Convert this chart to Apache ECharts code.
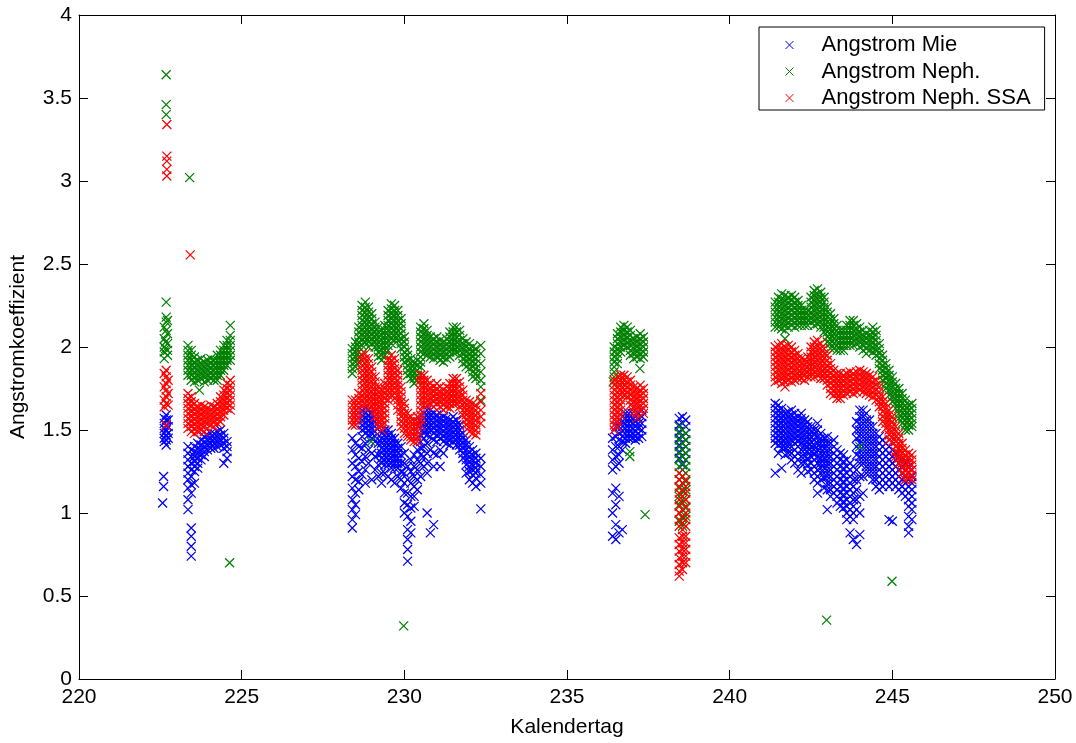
<!DOCTYPE html>
<html>
<head>
<meta charset="utf-8">
<script src="https://cdn.jsdelivr.net/npm/echarts@6/dist/echarts.min.js"></script>
<style>
html,body{margin:0;padding:0;background:#fff;}
#chart{width:1076px;height:743px;}
</style>
</head>
<body>
<div id="chart"></div>
<script>
// ---- tick labels ----
const xTicks = [220, 225, 230, 235, 240, 245, 250];
const yTicks = [0, 0.5, 1, 1.5, 2, 2.5, 3, 3.5, 4];
const seriesNames = ['Angstrom Mie', 'Angstrom Neph.', 'Angstrom Neph. SSA'];

// ---- data: each row = [Kalendertag, value, value, ...] ----
// Angstrom Mie (blue)
const mieSeg1 = [
  [222.62, 1.57, 1.54, 1.51, 1.48, 1.45, 1.43], [222.68, 1.59, 1.56, 1.53, 1.5, 1.47, 1.44, 1.41], [222.74, 1.56, 1.52, 1.48, 1.45],
  [222.6, 1.22, 1.16], [222.57, 1.06]
];
const mieSeg2 = [
  [223.35, 1.4, 1.36, 1.32, 1.28, 1.24, 1.2, 1.15, 1.08, 1.02], [223.45, 1.38, 1.34, 1.3, 1.26, 1.22, 1.17, 1.12, 0.91, 0.86, 0.8, 0.74],
  [223.55, 1.4, 1.37, 1.34, 1.31, 1.28, 1.25, 1.18], [223.65, 1.42, 1.39, 1.36, 1.33, 1.3, 1.27], [223.75, 1.44, 1.41, 1.38, 1.35, 1.32],
  [223.85, 1.46, 1.43, 1.4, 1.37, 1.34], [223.95, 1.47, 1.44, 1.41, 1.38], [224.05, 1.48, 1.45, 1.42, 1.39], [224.15, 1.48, 1.45, 1.42, 1.39],
  [224.25, 1.49, 1.46, 1.43, 1.4], [224.35, 1.5, 1.47, 1.44, 1.41], [224.45, 1.48, 1.45, 1.42, 1.39, 1.3], [224.55, 1.43, 1.4, 1.37, 1.33]
];
const mieSeg3 = [
  [228.4, 1.45, 1.38, 1.3, 1.22, 1.15, 1.08, 1.02, 0.96, 0.91], [228.5, 1.42, 1.35, 1.28, 1.2, 1.12, 1.05, 0.99],
  [228.6, 1.4, 1.33, 1.25, 1.19, 1.14], [228.7, 1.62, 1.59, 1.56, 1.53, 1.5, 1.46, 1.39, 1.31, 1.23],
  [228.8, 1.63, 1.6, 1.57, 1.54, 1.51, 1.48, 1.42, 1.34, 1.26, 1.18], [228.9, 1.62, 1.59, 1.56, 1.53, 1.5, 1.47, 1.38, 1.3],
  [229.0, 1.6, 1.57, 1.54, 1.51, 1.48, 1.45, 1.36, 1.2], [229.1, 1.58, 1.55, 1.52, 1.49, 1.46, 1.43, 1.34, 1.26],
  [229.2, 1.42, 1.35, 1.29, 1.22], [229.3, 1.48, 1.45, 1.42, 1.39, 1.36, 1.33, 1.3, 1.24, 1.18],
  [229.4, 1.5, 1.47, 1.44, 1.41, 1.38, 1.35, 1.32, 1.29, 1.24], [229.5, 1.5, 1.47, 1.44, 1.41, 1.38, 1.35, 1.32, 1.29, 1.22],
  [229.6, 1.48, 1.45, 1.42, 1.39, 1.36, 1.33, 1.3, 1.27, 1.2], [229.7, 1.45, 1.42, 1.39, 1.36, 1.33, 1.3, 1.27, 1.18],
  [229.8, 1.42, 1.39, 1.36, 1.33, 1.3, 1.27, 1.22], [229.9, 1.4, 1.35, 1.3, 1.25, 1.2, 1.15],
  [230.0, 1.36, 1.3, 1.24, 1.18, 1.12, 1.06, 1.0], [230.1, 1.28, 1.2, 1.12, 1.05, 0.98, 0.9, 0.84, 0.78, 0.71],
  [230.2, 1.32, 1.25, 1.18, 1.1, 1.03, 0.95, 0.88], [230.3, 1.35, 1.28, 1.22, 1.16, 1.1, 1.04],
  [230.4, 1.38, 1.32, 1.26, 1.2, 1.14], [230.5, 1.55, 1.51, 1.47, 1.43, 1.39, 1.35, 1.3, 1.22],
  [230.6, 1.6, 1.57, 1.54, 1.51, 1.48, 1.45, 1.4, 1.34, 1.28], [230.7, 1.62, 1.59, 1.56, 1.53, 1.5, 1.47, 1.42, 1.36, 1.3, 1.24, 1.0],
  [230.8, 1.62, 1.59, 1.56, 1.53, 1.5, 1.46, 1.38, 0.88], [230.9, 1.6, 1.57, 1.54, 1.51, 1.48, 1.44, 1.36, 1.28, 0.93],
  [231.0, 1.59, 1.56, 1.53, 1.5, 1.47, 1.43, 1.35], [231.1, 1.6, 1.57, 1.54, 1.51, 1.48, 1.45, 1.38, 1.28],
  [231.2, 1.58, 1.55, 1.52, 1.49, 1.46, 1.43, 1.36], [231.3, 1.57, 1.54, 1.51, 1.48, 1.45, 1.42],
  [231.4, 1.56, 1.53, 1.5, 1.47, 1.44, 1.41], [231.5, 1.58, 1.55, 1.52, 1.49, 1.46, 1.43],
  [231.6, 1.56, 1.53, 1.5, 1.47, 1.44, 1.41], [231.7, 1.53, 1.5, 1.47, 1.44, 1.41, 1.38],
  [231.8, 1.48, 1.45, 1.42, 1.39, 1.36, 1.33], [231.9, 1.44, 1.41, 1.38, 1.35, 1.32, 1.29, 1.24],
  [232.0, 1.4, 1.37, 1.34, 1.31, 1.28, 1.25, 1.2], [232.1, 1.38, 1.35, 1.32, 1.29, 1.26, 1.23, 1.18],
  [232.2, 1.36, 1.33, 1.3, 1.27, 1.24, 1.21, 1.16], [232.35, 1.33, 1.28, 1.23, 1.18, 1.025]
];
const mieSeg4 = [
  [236.4, 1.45, 1.38, 1.32, 1.26, 1.12, 1.0, 0.86], [236.5, 1.52, 1.46, 1.4, 1.34, 1.28, 1.15, 1.05, 0.93, 0.84],
  [236.6, 1.56, 1.52, 1.48, 1.44, 1.4, 1.35, 1.3, 1.1, 0.88], [236.7, 1.58, 1.55, 1.52, 1.49, 1.46, 1.43, 1.38, 0.9],
  [236.8, 1.6, 1.57, 1.54, 1.51, 1.48, 1.45, 1.42], [236.9, 1.6, 1.57, 1.54, 1.51, 1.48, 1.45],
  [237.0, 1.6, 1.57, 1.54, 1.51, 1.48, 1.45], [237.1, 1.58, 1.55, 1.52, 1.49, 1.46, 1.44],
  [237.2, 1.6, 1.57, 1.54, 1.51, 1.48, 1.45], [237.3, 1.62, 1.58, 1.54, 1.5, 1.46]
];
const mieSeg5 = [
  [238.45, 1.57, 1.53, 1.49, 1.45, 1.41, 1.37, 1.33], [238.55, 1.58, 1.54, 1.5, 1.46, 1.42, 1.38, 1.34, 1.29],
  [238.65, 1.56, 1.52, 1.48, 1.44, 1.4, 1.36, 1.32]
];
const mieSeg6 = [
  [241.4, 1.66, 1.63, 1.6, 1.57, 1.54, 1.51, 1.48, 1.45, 1.42, 1.24], [241.5, 1.65, 1.62, 1.59, 1.56, 1.53, 1.5, 1.47, 1.44, 1.41, 1.36],
  [241.6, 1.63, 1.6, 1.57, 1.54, 1.51, 1.48, 1.45, 1.42, 1.39, 1.27], [241.7, 1.6, 1.57, 1.54, 1.51, 1.48, 1.45, 1.42, 1.39, 1.35],
  [241.8, 1.61, 1.58, 1.55, 1.52, 1.49, 1.46, 1.43, 1.4, 1.36], [241.9, 1.62, 1.59, 1.56, 1.53, 1.5, 1.47, 1.44, 1.4, 1.36, 1.32],
  [242.0, 1.6, 1.57, 1.54, 1.51, 1.48, 1.45, 1.42, 1.38, 1.34, 1.3], [242.1, 1.58, 1.55, 1.52, 1.49, 1.46, 1.43, 1.4, 1.36, 1.32, 1.26],
  [242.2, 1.6, 1.57, 1.54, 1.51, 1.48, 1.45, 1.42, 1.38, 1.34, 1.3, 1.24], [242.3, 1.56, 1.53, 1.5, 1.47, 1.44, 1.41, 1.38, 1.34, 1.3],
  [242.4, 1.55, 1.52, 1.49, 1.46, 1.43, 1.4, 1.37, 1.33, 1.29, 1.25], [242.5, 1.52, 1.49, 1.46, 1.43, 1.4, 1.37, 1.34, 1.3, 1.26],
  [242.6, 1.5, 1.47, 1.44, 1.41, 1.38, 1.35, 1.32, 1.28, 1.24, 1.2], [242.7, 1.54, 1.5, 1.46, 1.42, 1.38, 1.34, 1.3, 1.26, 1.22, 1.18, 1.12],
  [242.8, 1.48, 1.45, 1.42, 1.39, 1.36, 1.33, 1.3, 1.27, 1.24, 1.2], [242.9, 1.45, 1.42, 1.39, 1.36, 1.33, 1.3, 1.27, 1.24, 1.21, 1.15],
  [243.0, 1.46, 1.42, 1.38, 1.34, 1.3, 1.26, 1.22, 1.18, 1.14, 1.02], [243.1, 1.42, 1.38, 1.34, 1.3, 1.26, 1.22, 1.18, 1.14, 1.1],
  [243.2, 1.44, 1.4, 1.36, 1.32, 1.28, 1.24, 1.2, 1.16, 1.12], [243.3, 1.38, 1.34, 1.3, 1.26, 1.22, 1.18, 1.14, 1.1, 1.06],
  [243.4, 1.36, 1.32, 1.28, 1.24, 1.2, 1.16, 1.12, 1.08, 1.04], [243.5, 1.35, 1.31, 1.27, 1.23, 1.19, 1.15, 1.11, 1.07, 1.03],
  [243.6, 1.32, 1.28, 1.24, 1.2, 1.16, 1.12, 1.08, 1.04, 1.0, 0.96], [243.7, 1.3, 1.26, 1.22, 1.18, 1.14, 1.1, 1.06, 1.02, 0.98, 0.88],
  [243.8, 1.28, 1.24, 1.2, 1.16, 1.12, 1.08, 1.04, 1.0, 0.96, 0.84], [243.9, 1.55, 1.5, 1.45, 1.4, 1.35, 1.26, 1.2, 1.14, 1.08, 1.02, 0.81],
  [244.0, 1.62, 1.58, 1.54, 1.5, 1.46, 1.42, 1.38, 1.34, 1.3, 1.22, 1.1, 1.0, 0.87], [244.1, 1.62, 1.58, 1.54, 1.5, 1.46, 1.42, 1.38, 1.34, 1.3, 1.22, 1.12],
  [244.2, 1.6, 1.56, 1.52, 1.48, 1.44, 1.4, 1.36, 1.32, 1.28, 1.24], [244.3, 1.56, 1.52, 1.48, 1.44, 1.4, 1.36, 1.32, 1.28, 1.24],
  [244.4, 1.52, 1.48, 1.44, 1.4, 1.36, 1.32, 1.28, 1.24, 1.2], [244.5, 1.48, 1.44, 1.4, 1.36, 1.32, 1.28, 1.24, 1.2, 1.16],
  [244.6, 1.46, 1.42, 1.38, 1.34, 1.3, 1.26, 1.22, 1.18, 1.14], [244.7, 1.44, 1.4, 1.36, 1.32, 1.28, 1.24, 1.2, 1.16],
  [244.8, 1.42, 1.38, 1.34, 1.3, 1.26, 1.22, 1.18], [244.9, 1.4, 1.36, 1.32, 1.28, 1.24, 1.2, 1.16, 0.96],
  [245.0, 1.38, 1.34, 1.3, 1.26, 1.22, 1.18, 0.95], [245.1, 1.36, 1.32, 1.28, 1.24, 1.2, 1.16],
  [245.2, 1.34, 1.3, 1.26, 1.22, 1.18, 1.14], [245.3, 1.32, 1.28, 1.24, 1.2, 1.16, 1.12],
  [245.4, 1.3, 1.26, 1.22, 1.18, 1.14, 1.1], [245.5, 1.28, 1.24, 1.2, 1.16, 1.12, 1.08, 1.04, 0.98, 0.92, 0.88],
  [245.6, 1.26, 1.22, 1.18, 1.14, 1.1, 1.06, 1.02, 0.96]
];

// Angstrom Neph. (green)
const nephSeg1 = [
  [222.68, 3.64, 3.46, 3.4, 2.27, 2.18, 2.15, 2.1], [222.62, 2.05, 2.0, 1.97, 1.93, 2.12],
  [222.72, 2.08, 2.02, 1.98, 1.95, 2.16], [222.66, 1.99, 2.03], [223.4, 3.02]
];
const nephSeg2 = [
  [223.35, 2.01, 1.98, 1.95, 1.92, 1.89, 1.86, 1.83], [223.45, 1.98, 1.95, 1.92, 1.89, 1.86, 1.83, 1.8],
  [223.55, 1.94, 1.91, 1.88, 1.85, 1.82, 1.79], [223.65, 1.92, 1.89, 1.86, 1.83, 1.8], [223.7, 1.74],
  [223.75, 1.93, 1.9, 1.87, 1.84, 1.81], [223.85, 1.91, 1.88, 1.85, 1.82, 1.79], [223.95, 1.92, 1.89, 1.86, 1.83, 1.8],
  [224.05, 1.93, 1.9, 1.87, 1.84, 1.81], [224.15, 1.92, 1.89, 1.86, 1.83, 1.8], [224.25, 1.95, 1.92, 1.89, 1.86, 1.83, 1.8],
  [224.35, 1.98, 1.95, 1.92, 1.89, 1.86, 1.83], [224.45, 2.01, 1.98, 1.95, 1.92, 1.89, 1.86],
  [224.55, 2.04, 2.01, 1.98, 1.95, 1.92, 1.89], [224.65, 2.07, 2.04, 2.01, 1.98, 1.95, 1.92, 2.13], [224.63, 0.7]
];
const nephSeg3 = [
  [228.4, 1.99, 1.96, 1.93, 1.9, 1.87, 1.84], [228.5, 2.03, 2.0, 1.97, 1.94, 1.91, 1.88],
  [228.6, 2.12, 2.09, 2.06, 2.03, 2.0, 1.97, 1.94, 1.91], [228.7, 2.25, 2.22, 2.19, 2.16, 2.13, 2.1, 2.07, 2.04, 2.01],
  [228.8, 2.27, 2.24, 2.21, 2.18, 2.15, 2.12, 2.09, 2.06, 2.03], [228.9, 2.24, 2.21, 2.18, 2.15, 2.12, 2.09, 2.06, 2.03, 2.0],
  [229.0, 2.2, 2.17, 2.14, 2.11, 2.08, 2.05, 2.02], [229.1, 2.15, 2.12, 2.09, 2.06, 2.03, 2.0],
  [229.2, 2.12, 2.09, 2.06, 2.03, 2.0, 1.97, 1.94], [229.3, 2.1, 2.07, 2.04, 2.01, 1.98, 1.95, 1.92],
  [229.4, 2.13, 2.1, 2.07, 2.04, 2.01, 1.98, 1.95], [229.5, 2.22, 2.19, 2.16, 2.13, 2.1, 2.07, 2.04, 2.01, 1.98],
  [229.6, 2.26, 2.23, 2.2, 2.17, 2.14, 2.11, 2.08, 2.05, 2.02], [229.7, 2.25, 2.22, 2.19, 2.16, 2.13, 2.1, 2.07, 2.04],
  [229.8, 2.22, 2.19, 2.16, 2.13, 2.1, 2.07, 2.04], [229.9, 2.17, 2.14, 2.11, 2.08, 2.05, 2.02, 1.99],
  [230.0, 2.06, 2.03, 2.0, 1.97, 1.94, 1.91], [230.1, 1.98, 1.95, 1.92, 1.89, 1.86, 1.83],
  [230.2, 1.93, 1.9, 1.87, 1.84, 1.81], [230.3, 1.9, 1.87, 1.84, 1.81, 1.78], [230.4, 1.92, 1.89, 1.86, 1.83, 1.8],
  [230.5, 2.12, 2.09, 2.06, 2.03, 2.0, 1.97, 1.94, 1.91, 1.88], [230.6, 2.14, 2.11, 2.08, 2.05, 2.02, 1.99, 1.96],
  [230.7, 2.1, 2.07, 2.04, 2.01, 1.98, 1.95], [230.8, 2.06, 2.03, 2.0, 1.97, 1.94], [230.9, 2.05, 2.02, 1.99, 1.96, 1.93],
  [231.0, 2.06, 2.03, 2.0, 1.97, 1.94], [231.1, 2.04, 2.01, 1.98, 1.95, 1.92], [231.2, 2.03, 2.0, 1.97, 1.94, 1.91],
  [231.3, 2.05, 2.02, 1.99, 1.96, 1.93], [231.4, 2.09, 2.06, 2.03, 2.0, 1.97, 1.94], [231.5, 2.12, 2.09, 2.06, 2.03, 2.0, 1.97],
  [231.6, 2.12, 2.09, 2.06, 2.03, 2.0, 1.97], [231.7, 2.1, 2.07, 2.04, 2.01, 1.98, 1.95], [231.8, 2.05, 2.02, 1.99, 1.96, 1.93, 1.9],
  [231.9, 2.03, 2.0, 1.97, 1.94, 1.91, 1.88], [232.0, 2.02, 1.99, 1.96, 1.93, 1.9, 1.87],
  [232.1, 2.0, 1.97, 1.94, 1.91, 1.88, 1.85, 1.82], [232.2, 1.99, 1.96, 1.93, 1.9, 1.87, 1.84, 1.81],
  [232.35, 2.01, 1.96, 1.9, 1.85, 1.8, 1.76, 1.68], [228.98, 1.43], [229.98, 0.32]
];
const nephSeg4 = [
  [236.45, 2.0, 1.97, 1.94, 1.91, 1.88, 1.85, 1.82], [236.55, 2.08, 2.05, 2.02, 1.99, 1.96, 1.93, 1.9],
  [236.65, 2.12, 2.09, 2.06, 2.03, 2.0, 1.97], [236.75, 2.13, 2.1, 2.07, 2.04, 2.01], [236.85, 2.12, 2.09, 2.06, 2.03, 2.0],
  [236.95, 2.1, 2.07, 2.04, 2.01, 1.98, 1.95], [237.05, 2.05, 2.02, 1.99, 1.96, 1.93], [237.15, 2.06, 2.03, 2.0, 1.97, 1.94],
  [237.25, 2.08, 2.05, 2.02, 1.99, 1.96, 1.93], [237.35, 2.06, 2.03, 2.0, 1.97, 1.94],
  [237.24, 1.87], [236.42, 1.79], [236.93, 1.34, 1.37], [237.4, 0.99]
];
const nephSeg5 = [
  [238.45, 1.52, 1.48, 1.44, 1.4, 1.36, 1.32, 1.28, 1.24, 1.2, 1.15, 1.1, 1.05, 1.0, 0.95],
  [238.55, 1.5, 1.46, 1.42, 1.38, 1.34, 1.3, 1.26, 1.22, 1.18, 1.13, 1.08, 1.02, 0.97, 0.92],
  [238.65, 1.48, 1.44, 1.4, 1.36, 1.32, 1.28, 1.24, 1.19, 1.14, 1.08, 1.03, 0.98]
];
const nephSeg6 = [
  [241.4, 2.27, 2.24, 2.21, 2.18, 2.15, 2.12], [241.5, 2.3, 2.27, 2.24, 2.21, 2.18, 2.15, 2.12],
  [241.6, 2.32, 2.29, 2.26, 2.23, 2.2, 2.17, 2.14, 2.11], [241.7, 2.31, 2.28, 2.25, 2.22, 2.19, 2.16, 2.13, 2.1, 2.05],
  [241.8, 2.3, 2.27, 2.24, 2.21, 2.18, 2.15, 2.12], [241.9, 2.31, 2.28, 2.25, 2.22, 2.19, 2.16, 2.13],
  [242.0, 2.3, 2.27, 2.24, 2.21, 2.18, 2.15, 2.12], [242.1, 2.28, 2.25, 2.22, 2.19, 2.16, 2.13],
  [242.2, 2.25, 2.22, 2.19, 2.16, 2.13], [242.3, 2.22, 2.19, 2.16, 2.13], [242.4, 2.22, 2.19, 2.16, 2.13],
  [242.5, 2.3, 2.27, 2.24, 2.21, 2.18, 2.15], [242.6, 2.34, 2.31, 2.28, 2.25, 2.22, 2.19, 2.16, 2.13],
  [242.7, 2.35, 2.32, 2.29, 2.26, 2.23, 2.2, 2.17, 2.14], [242.8, 2.33, 2.3, 2.27, 2.24, 2.21, 2.18, 2.15, 2.12],
  [242.9, 2.3, 2.27, 2.24, 2.21, 2.18, 2.15, 2.12, 2.09], [243.0, 2.24, 2.21, 2.18, 2.15, 2.12, 2.09, 2.06, 2.03],
  [243.1, 2.2, 2.17, 2.14, 2.11, 2.08, 2.05, 2.02, 1.99], [243.2, 2.17, 2.14, 2.11, 2.08, 2.05, 2.02, 1.99],
  [243.3, 2.13, 2.1, 2.07, 2.04, 2.01, 1.98], [243.4, 2.1, 2.07, 2.04, 2.01, 1.98], [243.5, 2.1, 2.07, 2.04, 2.01, 1.98],
  [243.6, 2.13, 2.1, 2.07, 2.04, 2.01], [243.7, 2.16, 2.13, 2.1, 2.07, 2.04, 2.01], [243.8, 2.16, 2.13, 2.1, 2.07, 2.04, 2.01],
  [243.9, 2.14, 2.11, 2.08, 2.05, 2.02], [244.0, 2.12, 2.09, 2.06, 2.03, 2.0], [244.1, 2.1, 2.07, 2.04, 2.01, 1.98],
  [244.2, 2.08, 2.05, 2.02, 1.99, 1.96], [244.3, 2.1, 2.07, 2.04, 2.01, 1.98], [244.4, 2.12, 2.09, 2.06, 2.03, 2.0, 1.97],
  [244.5, 2.1, 2.07, 2.04, 2.01, 1.98, 1.95], [244.6, 2.02, 1.99, 1.96, 1.93, 1.9, 1.87],
  [244.7, 1.95, 1.92, 1.89, 1.86, 1.83, 1.8], [244.8, 1.9, 1.87, 1.84, 1.81, 1.78, 1.75],
  [244.9, 1.86, 1.83, 1.8, 1.77, 1.74, 1.71], [245.0, 1.82, 1.79, 1.76, 1.73, 1.7, 1.67],
  [245.1, 1.78, 1.75, 1.72, 1.69, 1.66, 1.63], [245.2, 1.75, 1.72, 1.69, 1.66, 1.63, 1.6, 1.57],
  [245.3, 1.72, 1.69, 1.66, 1.63, 1.6, 1.57, 1.54], [245.4, 1.68, 1.65, 1.62, 1.59, 1.56, 1.53, 1.5],
  [245.5, 1.65, 1.62, 1.59, 1.56, 1.53, 1.5], [245.6, 1.66, 1.63, 1.6, 1.57, 1.54, 1.52],
  [244.0, 1.4], [242.98, 0.355], [244.99, 0.589]
];

// Angstrom Neph. SSA (red)
const ssaSeg1 = [
  [222.7, 3.34, 3.15, 3.12, 3.07, 3.03], [223.42, 2.555],
  [222.68, 1.86, 1.82, 1.78, 1.74, 1.7, 1.66, 1.53], [222.62, 1.84, 1.76, 1.68, 1.64], [222.74, 1.8, 1.72, 1.65]
];
const ssaSeg2 = [
  [223.35, 1.72, 1.69, 1.66, 1.63, 1.6, 1.57, 1.54, 1.51], [223.45, 1.7, 1.67, 1.64, 1.61, 1.58, 1.55, 1.52, 1.49],
  [223.55, 1.66, 1.63, 1.6, 1.57, 1.54, 1.51, 1.48], [223.65, 1.64, 1.61, 1.58, 1.55, 1.52, 1.49],
  [223.75, 1.65, 1.62, 1.59, 1.56, 1.53, 1.5], [223.85, 1.64, 1.61, 1.58, 1.55, 1.52, 1.49],
  [223.95, 1.63, 1.6, 1.57, 1.54, 1.51], [224.05, 1.65, 1.62, 1.59, 1.56, 1.53], [224.15, 1.64, 1.61, 1.58, 1.55, 1.52],
  [224.25, 1.66, 1.63, 1.6, 1.57, 1.54], [224.35, 1.7, 1.67, 1.64, 1.61, 1.58, 1.55], [224.45, 1.74, 1.71, 1.68, 1.65, 1.62, 1.59],
  [224.55, 1.78, 1.75, 1.72, 1.69, 1.66, 1.63], [224.65, 1.8, 1.77, 1.74, 1.71, 1.68, 1.65, 1.62]
];
const ssaSeg3 = [
  [228.4, 1.68, 1.65, 1.62, 1.59, 1.56, 1.53], [228.5, 1.68, 1.65, 1.62, 1.59, 1.56, 1.53], [228.6, 1.72, 1.69, 1.66, 1.63, 1.6, 1.57],
  [228.7, 1.95, 1.92, 1.89, 1.86, 1.83, 1.8, 1.77, 1.74, 1.71, 1.68, 1.65], [228.8, 1.96, 1.93, 1.9, 1.87, 1.84, 1.81, 1.78, 1.75, 1.72, 1.69, 1.66],
  [228.9, 1.93, 1.9, 1.87, 1.84, 1.81, 1.78, 1.75, 1.72, 1.69, 1.66, 1.63], [229.0, 1.88, 1.85, 1.82, 1.79, 1.76, 1.73, 1.7, 1.67, 1.64],
  [229.1, 1.82, 1.79, 1.76, 1.73, 1.7, 1.67, 1.64, 1.61, 1.58], [229.2, 1.76, 1.73, 1.7, 1.67, 1.64, 1.61, 1.58, 1.55, 1.52],
  [229.3, 1.74, 1.71, 1.68, 1.65, 1.62, 1.59, 1.56, 1.53, 1.5], [229.4, 1.78, 1.75, 1.72, 1.69, 1.66, 1.63, 1.6, 1.57, 1.54],
  [229.5, 1.92, 1.89, 1.86, 1.83, 1.8, 1.77, 1.74, 1.71, 1.68], [229.6, 1.95, 1.92, 1.89, 1.86, 1.83, 1.8, 1.77, 1.74, 1.71],
  [229.7, 1.93, 1.9, 1.87, 1.84, 1.81, 1.78, 1.75, 1.72, 1.69], [229.8, 1.86, 1.83, 1.8, 1.77, 1.74, 1.71, 1.68, 1.65, 1.62],
  [229.9, 1.76, 1.73, 1.7, 1.67, 1.64, 1.61, 1.58, 1.55, 1.52], [230.0, 1.66, 1.63, 1.6, 1.57, 1.54, 1.51, 1.48],
  [230.1, 1.6, 1.57, 1.54, 1.51, 1.48, 1.46], [230.2, 1.58, 1.55, 1.52, 1.49, 1.46, 1.44], [230.3, 1.55, 1.52, 1.49, 1.46, 1.43],
  [230.4, 1.58, 1.55, 1.52, 1.49, 1.46, 1.43], [230.5, 1.83, 1.8, 1.77, 1.74, 1.71, 1.68, 1.65, 1.62, 1.59, 1.56, 1.53],
  [230.6, 1.83, 1.8, 1.77, 1.74, 1.71, 1.68, 1.65], [230.7, 1.8, 1.77, 1.74, 1.71, 1.68, 1.65], [230.8, 1.78, 1.75, 1.72, 1.69, 1.66],
  [230.9, 1.76, 1.73, 1.7, 1.67, 1.64], [231.0, 1.78, 1.75, 1.72, 1.69, 1.66], [231.1, 1.76, 1.73, 1.7, 1.67, 1.64],
  [231.2, 1.74, 1.71, 1.68, 1.65, 1.62], [231.3, 1.76, 1.73, 1.7, 1.67, 1.64], [231.4, 1.78, 1.75, 1.72, 1.69, 1.66, 1.63],
  [231.5, 1.81, 1.78, 1.75, 1.72, 1.69, 1.66], [231.6, 1.81, 1.78, 1.75, 1.72, 1.69, 1.66], [231.7, 1.79, 1.76, 1.73, 1.7, 1.67, 1.64],
  [231.8, 1.74, 1.71, 1.68, 1.65, 1.62, 1.59], [231.9, 1.68, 1.65, 1.62, 1.59, 1.56, 1.53],
  [232.0, 1.67, 1.64, 1.61, 1.58, 1.55, 1.52, 1.49], [232.1, 1.66, 1.63, 1.6, 1.57, 1.54, 1.51, 1.48],
  [232.2, 1.65, 1.62, 1.59, 1.56, 1.53, 1.5, 1.47], [232.35, 1.72, 1.67, 1.62, 1.58, 1.54]
];
const ssaSeg4 = [
  [236.45, 1.8, 1.77, 1.74, 1.71, 1.68, 1.65, 1.62, 1.59, 1.56, 1.53, 1.5], [236.55, 1.82, 1.79, 1.76, 1.73, 1.7, 1.67, 1.64, 1.61, 1.58, 1.55, 1.52],
  [236.65, 1.83, 1.8, 1.77, 1.74, 1.71, 1.68, 1.65, 1.62, 1.59], [236.75, 1.83, 1.8, 1.77, 1.74, 1.71], [236.85, 1.82, 1.79, 1.76, 1.73, 1.7],
  [236.95, 1.8, 1.77, 1.74, 1.71, 1.68, 1.65], [237.05, 1.76, 1.73, 1.7, 1.67, 1.64, 1.61], [237.15, 1.75, 1.72, 1.69, 1.66, 1.63, 1.6, 1.57],
  [237.25, 1.77, 1.74, 1.71, 1.68, 1.65, 1.62], [237.35, 1.75, 1.72, 1.69, 1.66, 1.63, 1.6]
];
const ssaSeg5 = [
  [238.45, 1.24, 1.2, 1.16, 1.12, 1.08, 1.04, 1.0, 0.96, 0.92, 0.85, 0.81, 0.77, 0.73, 0.69, 0.65, 0.62],
  [238.55, 1.22, 1.18, 1.14, 1.1, 1.06, 1.02, 0.98, 0.94, 0.9, 0.86, 0.82, 0.78, 0.74, 0.7, 0.66],
  [238.65, 1.2, 1.16, 1.12, 1.08, 1.04, 1.0, 0.96, 0.92, 0.86, 0.82, 0.78, 0.74, 0.7]
];
const ssaSeg6 = [
  [241.4, 2.0, 1.97, 1.94, 1.91, 1.88, 1.85, 1.82, 1.79], [241.5, 2.01, 1.98, 1.95, 1.92, 1.89, 1.86, 1.83, 1.8],
  [241.6, 2.02, 1.99, 1.96, 1.93, 1.9, 1.87, 1.84, 1.81, 1.78], [241.7, 2.0, 1.97, 1.94, 1.91, 1.88, 1.85, 1.82, 1.79, 1.76],
  [241.8, 2.01, 1.98, 1.95, 1.92, 1.89, 1.86, 1.83, 1.8], [241.9, 2.0, 1.97, 1.94, 1.91, 1.88, 1.85, 1.82, 1.79],
  [242.0, 1.98, 1.95, 1.92, 1.89, 1.86, 1.83, 1.8], [242.1, 1.96, 1.93, 1.9, 1.87, 1.84, 1.81],
  [242.2, 1.93, 1.9, 1.87, 1.84, 1.81], [242.3, 1.92, 1.89, 1.86, 1.83, 1.8], [242.4, 1.94, 1.91, 1.88, 1.85, 1.82],
  [242.5, 2.0, 1.97, 1.94, 1.91, 1.88, 1.85, 1.82], [242.6, 2.03, 2.0, 1.97, 1.94, 1.91, 1.88, 1.85, 1.82],
  [242.7, 2.04, 2.01, 1.98, 1.95, 1.92, 1.89, 1.86, 1.83], [242.8, 2.02, 1.99, 1.96, 1.93, 1.9, 1.87, 1.84, 1.81],
  [242.9, 1.99, 1.96, 1.93, 1.9, 1.87, 1.84, 1.81], [243.0, 1.95, 1.92, 1.89, 1.86, 1.83, 1.8, 1.77],
  [243.1, 1.9, 1.87, 1.84, 1.81, 1.78, 1.75, 1.72], [243.2, 1.86, 1.83, 1.8, 1.77, 1.74, 1.71],
  [243.3, 1.84, 1.81, 1.78, 1.75, 1.72, 1.69], [243.4, 1.84, 1.81, 1.78, 1.75, 1.72, 1.69],
  [243.5, 1.83, 1.8, 1.77, 1.74, 1.71], [243.6, 1.84, 1.81, 1.78, 1.75, 1.72], [243.7, 1.85, 1.82, 1.79, 1.76, 1.73],
  [243.8, 1.84, 1.81, 1.78, 1.75, 1.72], [243.9, 1.85, 1.82, 1.79, 1.76, 1.73], [244.0, 1.86, 1.83, 1.8, 1.77, 1.74],
  [244.1, 1.85, 1.82, 1.79, 1.76, 1.73], [244.2, 1.84, 1.81, 1.78, 1.75, 1.72], [244.3, 1.83, 1.8, 1.77, 1.74, 1.71],
  [244.4, 1.82, 1.79, 1.76, 1.73, 1.7], [244.5, 1.8, 1.77, 1.74, 1.71, 1.68], [244.6, 1.76, 1.73, 1.7, 1.67, 1.64],
  [244.7, 1.7, 1.67, 1.64, 1.61, 1.58, 1.55], [244.8, 1.66, 1.63, 1.6, 1.57, 1.54, 1.51],
  [244.9, 1.62, 1.59, 1.56, 1.53, 1.5, 1.47, 1.44], [245.0, 1.58, 1.55, 1.52, 1.49, 1.46, 1.43],
  [245.1, 1.52, 1.49, 1.46, 1.43, 1.4, 1.37, 1.34], [245.2, 1.48, 1.45, 1.42, 1.39, 1.36, 1.33, 1.3],
  [245.3, 1.42, 1.39, 1.36, 1.33, 1.3, 1.27, 1.24], [245.4, 1.38, 1.35, 1.32, 1.29, 1.26, 1.23, 1.2],
  [245.5, 1.36, 1.33, 1.3, 1.27, 1.24, 1.21], [245.6, 1.35, 1.32, 1.29, 1.26, 1.23, 1.2]
];

const mieRows = [].concat(mieSeg1, mieSeg2, mieSeg3, mieSeg4, mieSeg5, mieSeg6);
const nephRows = [].concat(nephSeg1, nephSeg2, nephSeg3, nephSeg4, nephSeg5, nephSeg6);
const ssaRows = [].concat(ssaSeg1, ssaSeg2, ssaSeg3, ssaSeg4, ssaSeg5, ssaSeg6);

function toPoints(rows) {
  const pts = [];
  rows.forEach(function (r) {
    for (let i = 1; i < r.length; i++) pts.push([r[0], r[i]]);
  });
  return pts;
}

const FONT = 'Liberation Sans, Arial, Helvetica, sans-serif';
const X_SYMBOL = 'path://M0,0L10,10M10,0L0,10';
const colors = ['#0000ff', '#008000', '#ff0000'];

function mkSeries(name, rows, color) {
  return {
    name: name,
    type: 'scatter',
    xAxisIndex: 0,
    yAxisIndex: 0,
    symbol: X_SYMBOL,
    symbolSize: 9,
    animation: false,
    silent: true,
    itemStyle: { color: 'rgba(0,0,0,0)', borderColor: color, borderWidth: 1.25, opacity: 1 },
    data: toPoints(rows)
  };
}

const chart = echarts.init(document.getElementById('chart'), null, { renderer: 'canvas' });

const axisCommon = {
  axisLine: { show: true, onZero: false, lineStyle: { color: '#000', width: 1 } },
  axisTick: { show: true, inside: true, length: 9, lineStyle: { color: '#000', width: 1 } },
  splitLine: { show: false },
  axisLabel: { color: '#000', fontFamily: FONT, fontSize: 21 }
};

chart.setOption({
  backgroundColor: '#fff',
  animation: false,
  grid: { left: 79, right: 21, top: 15, bottom: 60, containLabel: false },
  xAxis: [
    Object.assign({}, axisCommon, {
      type: 'value', position: 'bottom',
      min: xTicks[0], max: xTicks[xTicks.length - 1], interval: xTicks[1] - xTicks[0],
      name: 'Kalendertag', nameLocation: 'middle', nameGap: 38,
      nameTextStyle: { color: '#000', fontFamily: FONT, fontSize: 21 },
      axisLabel: { color: '#000', fontFamily: FONT, fontSize: 21, margin: 8 }
    }),
    Object.assign({}, axisCommon, {
      type: 'value', position: 'top',
      min: xTicks[0], max: xTicks[xTicks.length - 1], interval: xTicks[1] - xTicks[0],
      axisLabel: { show: false }
    })
  ],
  yAxis: [
    Object.assign({}, axisCommon, {
      type: 'value', position: 'left',
      min: yTicks[0], max: yTicks[yTicks.length - 1], interval: yTicks[1] - yTicks[0],
      name: 'Angstromkoeffizient', nameLocation: 'middle', nameGap: 50, nameRotate: 90,
      nameTextStyle: { color: '#000', fontFamily: FONT, fontSize: 21 },
      axisLabel: { color: '#000', fontFamily: FONT, fontSize: 21, margin: 7 }
    }),
    Object.assign({}, axisCommon, {
      type: 'value', position: 'right',
      min: yTicks[0], max: yTicks[yTicks.length - 1], interval: yTicks[1] - yTicks[0],
      axisLabel: { show: false }
    })
  ],
  legend: {
    show: true,
    orient: 'vertical',
    left: 759,
    top: 27,
    padding: [7, 14, 1, 26],
    itemWidth: 54,
    itemHeight: 8,
    itemGap: 4.5,
    backgroundColor: '#fff',
    borderColor: '#000',
    borderWidth: 1,
    borderRadius: 0,
    selectedMode: false,
    itemStyle: { borderWidth: 1 },
    textStyle: { color: '#000', fontFamily: FONT, fontSize: 22, lineHeight: 21 },
    data: seriesNames
  },
  series: [
    mkSeries(seriesNames[0], mieRows, colors[0]),
    mkSeries(seriesNames[1], nephRows, colors[1]),
    mkSeries(seriesNames[2], ssaRows, colors[2])
  ]
});
</script>
</body>
</html>
